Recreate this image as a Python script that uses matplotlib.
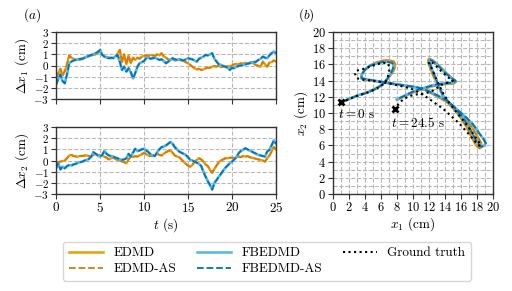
import numpy as np
import matplotlib
matplotlib.use('Agg')
import matplotlib.pyplot as plt
from matplotlib.ticker import MultipleLocator

plt.rcParams['font.family'] = 'serif'
plt.rcParams['font.serif'] = ['cmr10']
plt.rcParams['mathtext.fontset'] = 'cm'
plt.rcParams['axes.formatter.use_mathtext'] = True
plt.rcParams['font.size'] = 9.5

# colours of the four models + ground truth
c_edmd, c_edmd_as = '#E69F00', '#D97712'
c_fb, c_fb_as = '#56B4E9', '#0072B2'

# tracking error, sampled every 0.25 s from 0 to 25 s
dt = 0.25
dx1_edmd = [-1.1, -0.7, -0.3, -0.9, -0.5, 0.1, 0.9, 0.7, 0.6, 0.5, 0.55, 0.5, 0.6, 0.7, 0.75, 0.85,
            0.9, 0.95, 1.0, 1.1, 1.3, 1.0, 0.8, 0.75, 0.7, 0.65, 0.7, 0.8, 1.1, 1.4, 0.3, 1.0,
            0.1, 0.9, 0.2, 0.7, 0.5, 0.7, 0.6, 0.8, 0.85, 0.9, 0.85, 0.95, 0.9, 0.85, 1.0, 0.9,
            1.1, 0.8, 0.7, 0.55, 0.5, 0.6, 0.45, 0.5, 0.55, 0.45, 0.4, 0.3, 0.2, 0.05, -0.1, -0.25,
            -0.35, -0.3, -0.4, -0.35, -0.25, -0.2, -0.2, -0.1, -0.05, -0.1, 0.0, -0.15, -0.1, -0.15,
            -0.05, -0.1, 0.0, 0.1, 0.15, 0.1, 0.2, 0.15, 0.25, 0.2, 0.25, 0.3, 0.15, 0.05, -0.05,
            -0.1, 0.35, 0.1, -0.1, 0.25, 0.3, 0.45, 0.35]
dx1_fb = [-1.75, -1.2, -0.8, -1.4, -1.6, -0.8, 0.2, 0.35, 0.45, 0.5, 0.55, 0.6, 0.6, 0.7, 0.8, 0.85,
          0.95, 1.0, 1.1, 1.2, 1.4, 0.95, 0.8, 0.7, 0.65, 0.7, 0.65, 0.8, 0.95, 0.35, -0.4, -0.1,
          -0.55, -0.25, -0.6, -1.15, -0.7, -0.1, 0.2, 0.3, 0.4, 0.65, 0.7, 0.6, 0.65, 0.7, 0.6, 0.5,
          0.55, 0.4, 0.2, 0.35, 0.5, 0.65, 0.55, 0.5, 0.55, 0.5, 0.45, 0.55, 0.65, 0.6, 0.55, 0.45,
          0.35, 0.6, 0.7, 0.8, 0.95, 0.9, 1.0, 1.1, 0.6, 0.35, 0.1, 0.05, -0.05, -0.1, -0.2, -0.4,
          -0.2, -0.25, -0.1, -0.05, 0.0, 0.05, 0.1, 0.15, 0.2, 0.25, 0.3, 0.35, 0.5, 0.6, 0.8,
          0.7, 0.65, 0.9, 1.1, 1.25, 1.1]
dx2_edmd = [-0.25, -0.15, -0.1, -0.05, 0.0, 0.2, 0.45, 0.5, 0.4, 0.35, 0.35, 0.4, 0.4, 0.45, 0.45, 0.4,
            0.35, 0.5, 0.6, 0.5, 0.45, 0.4, 0.35, 0.25, 0.1, 0.2, 0.25, 0.15, 0.05, 0.0, -0.1, -0.15,
            -0.25, 0.1, 0.35, 0.3, 0.4, 0.35, 0.45, 0.55, 0.7, 0.55, 0.45, 0.4, 0.4, 0.5, 0.6, 0.5,
            0.45, 0.6, 0.75, 0.85, 0.9, 0.7, 0.45, 0.35, 0.3, 0.1, -0.1, -0.3, -0.45, -0.55, -0.4, -0.1,
            0.05, 0.2, 0.1, -0.1, -0.35, -0.5, -0.85, -1.1, -0.75, -0.45, -0.15, 0.0, 0.1, 0.2, 0.2,
            0.25, 0.25, 0.2, 0.3, 0.35, 0.3, 0.4, 0.35, 0.4, 0.3, 0.25, 0.2, 0.15, 0.1, 0.05, 0.0,
            -0.1, 0.2, 0.45, 0.8, 1.2, 1.0]
dx2_fb = [-0.7, -0.25, -0.8, -0.55, -0.7, -0.5, -0.4, -0.45, -0.35, -0.3, -0.2, -0.15, -0.1, 0.0, 0.05, 0.15,
          0.35, 0.75, 0.6, 0.45, 0.35, 0.5, 0.85, 0.6, 0.45, 0.4, 0.35, 0.25, 0.2, 0.1, 0.05, 0.1,
          0.2, 0.6, 0.35, 0.7, 1.05, 0.85, 0.9, 1.0, 1.05, 0.9, 0.75, 0.55, 0.45, 0.4, 0.75, 1.0,
          1.2, 1.25, 1.35, 1.5, 1.65, 1.5, 1.2, 1.0, 0.8, 0.7, 0.6, 0.5, 0.3, 0.05, 0.0, -0.1,
          -0.2, -0.3, -0.5, -1.0, -1.45, -1.85, -2.2, -2.6, -2.0, -1.75, -1.45, -1.2, -0.9, -0.65,
          -0.45, -0.25, -0.1, 0.1, 0.3, 0.65, 0.85, 0.95, 1.1, 1.0, 0.9, 0.8, 0.7, 0.6, 0.5, 0.45,
          0.4, 0.35, 0.8, 0.95, 1.35, 1.8, 1.5]

# trajectories in the plane (x1, x2) in cm
fb_x1 = [1.3, 2.2, 3.2, 4.3, 5.2, 5.9, 6.4, 6.8, 7.2, 7.5, 7.6, 7.4, 6.9, 6.2, 5.4, 4.6, 4.0, 3.6, 3.6,
         4.3, 5.2, 6.2, 7.3, 8.4, 9.4, 10.4, 11.4, 12.5, 13.5, 14.3, 15.1, 15.9, 16.7, 17.5, 18.2,
         18.8, 19.1, 18.9, 18.5, 18.0, 17.4, 16.8, 16.1, 15.3, 14.5, 13.8, 13.3, 12.8, 12.4, 12.1,
         12.1, 12.5, 13.2, 14.0, 14.8, 15.3, 15.1, 14.3, 13.4, 12.4, 11.4, 10.4, 9.5, 8.7, 8.0]
fb_x2 = [11.4, 11.8, 12.2, 12.5, 12.9, 13.3, 13.7, 14.2, 14.8, 15.4, 15.9, 16.2, 16.3, 16.3, 16.1, 15.8,
         15.3, 14.7, 14.3, 14.15, 14.0, 13.85, 13.65, 13.5, 13.35, 13.2, 12.95, 12.45, 11.95, 11.5,
         10.8, 10.1, 9.4, 8.6, 7.6, 6.8, 6.3, 5.95, 5.85, 6.4, 7.5, 8.6, 9.6, 10.5, 11.3, 12.1, 13.2,
         14.4, 15.4, 16.2, 16.6, 16.4, 15.8, 15.0, 14.3, 14.0, 13.75, 13.7, 13.6, 13.4, 13.1, 12.8,
         12.4, 12.0, 11.7]
edmd_x1 = [1.3, 2.2, 3.2, 4.3, 5.2, 5.9, 6.4, 6.9, 7.4, 7.7, 7.8, 7.6, 7.0, 6.2, 5.4, 4.6, 4.0, 3.6, 3.6,
           4.3, 5.2, 6.2, 7.3, 8.4, 9.4, 10.4, 11.4, 12.5, 13.5, 14.3, 15.1, 15.9, 16.7, 17.4, 18.0,
           18.5, 18.6, 18.3, 17.9, 17.3, 16.7, 16.0, 15.2, 14.4, 13.7, 13.2, 12.6, 12.2, 11.9, 12.0,
           12.5, 13.3, 14.1, 14.9, 15.4, 15.1, 14.3, 13.4, 12.4, 11.4, 10.4, 9.5, 8.7, 8.0]
edmd_x2 = [11.4, 11.8, 12.2, 12.55, 12.95, 13.35, 13.75, 14.3, 14.9, 15.5, 16.0, 16.35, 16.5, 16.45,
           16.2, 15.85, 15.3, 14.7, 14.25, 14.1, 13.95, 13.8, 13.6, 13.45, 13.3, 13.15, 12.9, 12.35,
           11.8, 11.3, 10.6, 9.85, 9.1, 8.2, 7.2, 6.3, 5.8, 5.65, 6.0, 7.1, 8.3, 9.4, 10.4, 11.3,
           12.2, 13.3, 14.5, 15.5, 16.3, 16.7, 16.5, 15.8, 15.0, 14.3, 13.9, 13.65, 13.6, 13.5, 13.3,
           13.0, 12.7, 12.3, 11.95, 11.6]
gt_x1 = [1.0, 2.0, 3.0, 4.0, 5.0, 5.8, 6.4, 6.8, 7.0, 7.1, 6.9, 6.3, 5.5, 4.6, 3.7, 2.9, 2.8, 3.0, 3.8,
         4.8, 5.8, 6.8, 7.8, 8.8, 9.8, 10.8, 11.8, 12.8, 13.8, 14.8, 15.8, 16.7, 17.5, 18.1, 18.4,
         18.2, 17.6, 16.9, 16.1, 15.3, 14.5, 13.8, 13.2, 12.7, 12.3, 12.0, 12.2, 12.8, 13.6, 14.4,
         15.0, 14.5, 13.6, 12.9, 12.2, 11.4, 10.5, 9.6, 8.8, 8.2, 7.8]
gt_x2 = [11.3, 11.7, 12.1, 12.4, 12.8, 13.2, 13.6, 14.2, 14.9, 15.6, 16.1, 16.2, 16.0, 15.7, 15.4, 15.2,
         14.8, 14.3, 14.1, 14.0, 13.85, 13.7, 13.5, 13.25, 13.0, 12.5, 11.9, 11.2, 10.5, 9.6, 8.7,
         7.7, 6.8, 6.1, 5.9, 6.5, 7.3, 8.3, 9.3, 10.3, 11.3, 12.4, 13.6, 14.7, 15.6, 16.2, 16.4,
         15.9, 15.1, 14.4, 14.0, 13.8, 13.5, 13.0, 12.6, 12.4, 12.3, 12.1, 11.7, 11.1, 10.5]

W, H = 512, 291
fig = plt.figure(figsize=(W / 100, H / 100), dpi=100)

def box(x0, y0, x1, y1):
    return [x0 / W, 1 - y1 / H, (x1 - x0) / W, (y1 - y0) / H]

ax1 = fig.add_axes(box(56, 32, 276, 99))
ax2 = fig.add_axes(box(56, 127, 276, 194))
ax3 = fig.add_axes(box(332.7, 32, 493, 194))

grid_kw = dict(color='#b8b8b8', ls='--', lw=0.8)

def style(ax):
    for s in ax.spines.values():
        s.set_color('#333333')
        s.set_linewidth(1.0)
    ax.tick_params(colors='#333333', labelcolor='black', length=3.5, width=0.8, pad=1.5)
    ax.set_axisbelow(True)

for ax, e, f, lab in [(ax1, dx1_edmd, dx1_fb, r'$\Delta x_1$ (cm)'),
                      (ax2, dx2_edmd, dx2_fb, r'$\Delta x_2$ (cm)')]:
    t = dt * np.arange(len(e))
    tf = dt * np.arange(len(f))
    ax.plot(t, e, color=c_edmd, lw=1.7)
    ax.plot(t, e, color=c_edmd_as, lw=1.2, ls='--')
    ax.plot(tf, f, color=c_fb, lw=1.9)
    ax.plot(tf, f, color=c_fb_as, lw=1.2, ls='--')
    ax.set_xlim(0, 25)
    ax.set_ylim(-3, 3)
    ax.set_xticks([0, 5, 10, 15, 20, 25])
    ax.set_yticks(range(-3, 4))
    ax.grid(**grid_kw)
    ax.set_ylabel(lab, labelpad=2)
    style(ax)
    ax.tick_params(axis='y', labelsize=8)
ax1.tick_params(labelbottom=False)
ax2.set_xlabel(r'$t$ (s)', labelpad=1)

h1, = ax3.plot(edmd_x1, edmd_x2, color=c_edmd, lw=1.8, label='EDMD')
h2, = ax3.plot(edmd_x1, edmd_x2, color=c_edmd_as, lw=1.3, ls='--', label='EDMD-AS')
h3, = ax3.plot(fb_x1, fb_x2, color=c_fb, lw=1.8, label='FBEDMD')
h4, = ax3.plot(fb_x1, fb_x2, color=c_fb_as, lw=1.3, ls='--', label='FBEDMD-AS')
h5, = ax3.plot(gt_x1, gt_x2, color='black', lw=1.5, ls=':', label='Ground truth')
ax3.plot([gt_x1[0], gt_x1[-1]], [gt_x2[0], gt_x2[-1]], 'x', color='black', ms=5, mew=2)
ax3.text(gt_x1[0] - 0.3, gt_x2[0] - 1.9, r'$t = 0$ s')
ax3.text(gt_x1[-1] - 0.5, gt_x2[-1] - 2.2, r'$t = 24.5$ s')
ax3.set_xlim(0, 20)
ax3.set_ylim(0, 20)
ax3.xaxis.set_major_locator(MultipleLocator(2))
ax3.yaxis.set_major_locator(MultipleLocator(2))
ax3.xaxis.set_minor_locator(MultipleLocator(1))
ax3.yaxis.set_minor_locator(MultipleLocator(1))
ax3.tick_params(which='minor', length=0)
ax3.grid(which='both', **grid_kw)
ax3.set_xlabel(r'$x_1$ (cm)', labelpad=1)
ax3.set_ylabel(r'$x_2$ (cm)', labelpad=1)
style(ax3)
ax3.tick_params(labelsize=9)

fig.text(31.7 / W, 1 - 15 / H, r'$(a)$', ha='center', va='center')
fig.text(306.7 / W, 1 - 15 / H, r'$(b)$', ha='center', va='center')

fig.legend([h1, h2, h3, h4, h5], ['EDMD', 'EDMD-AS', 'FBEDMD', 'FBEDMD-AS', 'Ground truth'],
           ncol=3, mode='expand', loc='lower left', handlelength=2.6,
           bbox_to_anchor=(63.3 / W, 1 - 280.7 / H, (470.7 - 63.3) / W, 41.7 / H),
           frameon=True, edgecolor='#cccccc', borderaxespad=0, labelspacing=0.3)

fig.savefig('out.png', dpi=100)
